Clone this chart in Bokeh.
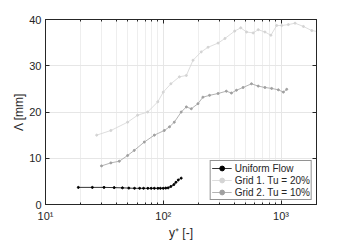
from bokeh.plotting import figure
from bokeh.models import LogAxis, LinearAxis, FixedTicker, Legend, LegendItem, Range1d, CustomJSTickFormatter
from bokeh.embed import file_html
from bokeh.resources import INLINE

uni_x = [19, 25, 31.4, 38.3, 45, 51, 57, 63, 68, 74, 79, 84, 90, 94.5, 100, 105, 110, 116, 123, 128, 134, 142]
uni_y = [3.7, 3.7, 3.7, 3.65, 3.6, 3.55, 3.5, 3.5, 3.5, 3.5, 3.5, 3.5, 3.5, 3.5, 3.5, 3.55, 3.6, 3.9, 4.3, 4.8, 5.3, 5.7]

g1_x = [27.2, 35.9, 49.8, 60.5, 73.7, 89.8, 100, 116, 137, 157, 179, 210, 240, 292, 334, 404, 455, 509, 580, 640, 730, 820, 918, 1012, 1154, 1315, 1549, 1824, 2040]
g1_y = [15.0, 16.0, 17.8, 19.3, 20.0, 22.2, 24.3, 26.1, 27.6, 27.9, 31.2, 33.0, 34.0, 34.9, 35.9, 37.5, 38.2, 37.3, 37.1, 37.8, 37.3, 36.6, 38.7, 38.7, 38.9, 39.2, 38.5, 37.6, 37.4]

g2_x = [29.9, 35.9, 42.3, 49.8, 56.7, 69, 84, 102, 113, 124, 142, 157, 173, 197, 217, 247, 292, 343, 379, 418, 476, 561, 640, 730, 832, 948, 1047, 1117]
g2_y = [8.35, 9.0, 9.35, 10.6, 11.7, 13.5, 15.0, 16.0, 16.8, 17.8, 20.0, 21.1, 20.7, 21.8, 23.2, 23.6, 24.0, 24.5, 24.1, 24.7, 25.3, 26.1, 25.6, 25.3, 25.1, 24.8, 24.3, 24.9]

y_ticks = [0, 10, 20, 30, 40]
x_ticks = [10, 100, 1000]
x_tick_labels = {10: "10¹", 100: "10²", 1000: "10³"}

FONT = "Liberation Sans"
AX = "#262626"
x_minor = [v * m for v in [10, 100, 1000] for m in range(2, 10)]

p = figure(frame_width=271, frame_height=185, x_axis_type="log", output_backend="svg",
           toolbar_location=None, x_range=Range1d(10, 2000), y_range=Range1d(0, 40),
           min_border_left=45, min_border_top=19, min_border_right=28, min_border_bottom=36)
p.background_fill_color = "white"
p.border_fill_color = "white"
p.outline_line_color = AX

for ax in (p.xaxis[0], p.yaxis[0]):
    ax.axis_line_color = AX
    ax.major_tick_in = 4
    ax.major_tick_out = 0
    ax.minor_tick_in = 2
    ax.minor_tick_out = 0
    ax.major_tick_line_color = AX
    ax.minor_tick_line_color = AX
    ax.major_label_text_font = FONT
    ax.major_label_text_font_size = "11px"
    ax.major_label_text_color = AX
    ax.axis_label_text_font = FONT
    ax.axis_label_text_font_size = "12px"
    ax.axis_label_text_font_style = "normal"
    ax.axis_label_text_color = AX

p.xaxis.ticker = FixedTicker(ticks=x_ticks, minor_ticks=x_minor)
p.xaxis.major_label_overrides = x_tick_labels
p.xaxis.axis_label = "y⁺ [-]"
p.xaxis.axis_label_standoff = 1
p.xaxis.major_label_standoff = 5
p.yaxis.ticker = FixedTicker(ticks=y_ticks, minor_ticks=[])
p.yaxis.axis_label = "Λ [mm]"
p.yaxis.axis_label_standoff = 0
p.yaxis.major_label_standoff = 4

p.xgrid.grid_line_color = "#e6e6e6"
p.xgrid.minor_grid_line_color = "#eeeeee"
p.ygrid.grid_line_color = "#e6e6e6"

r1 = p.line(uni_x, uni_y, line_color="black", line_width=0.8)
s1 = p.scatter(uni_x, uni_y, size=2, color="black")
r2 = p.line(g1_x, g1_y, line_color="#d4d4d4", line_width=0.8)
s2 = p.scatter(g1_x, g1_y, size=2, color="#d4d4d4")
r3 = p.line(g2_x, g2_y, line_color="#a0a0a0", line_width=0.8)
s3 = p.scatter(g2_x, g2_y, size=2, color="#a0a0a0")

legend = Legend(items=[
    LegendItem(label="Uniform Flow", renderers=[r1, s1]),
    LegendItem(label="Grid 1. Tu = 20%", renderers=[r2, s2]),
    LegendItem(label="Grid 2. Tu = 10%", renderers=[r3, s3]),
], location="bottom_right")
legend.label_text_font = FONT
legend.label_text_font_size = "10px"
legend.label_text_color = AX
legend.glyph_width = 20
legend.glyph_height = 12
legend.label_height = 12
legend.spacing = 0
legend.padding = 1
legend.margin = 4
legend.label_standoff = 3
legend.border_line_color = AX
legend.background_fill_alpha = 1
p.add_layout(legend)

top = LogAxis(ticker=FixedTicker(ticks=x_ticks, minor_ticks=x_minor), formatter=CustomJSTickFormatter(code="return '';"),
              major_tick_in=4, major_tick_out=0,
              minor_tick_in=2, minor_tick_out=0, axis_line_color=AX,
              major_tick_line_color=AX, minor_tick_line_color=AX, major_label_standoff=0)
p.add_layout(top, "above")
right = LinearAxis(ticker=FixedTicker(ticks=y_ticks, minor_ticks=[]), formatter=CustomJSTickFormatter(code="return '';"),
                   major_tick_in=4, major_tick_out=0,
                   axis_line_color=AX, major_tick_line_color=AX, major_label_standoff=0)
p.add_layout(right, "right")

open("out.html", "w").write(file_html(p, INLINE))
